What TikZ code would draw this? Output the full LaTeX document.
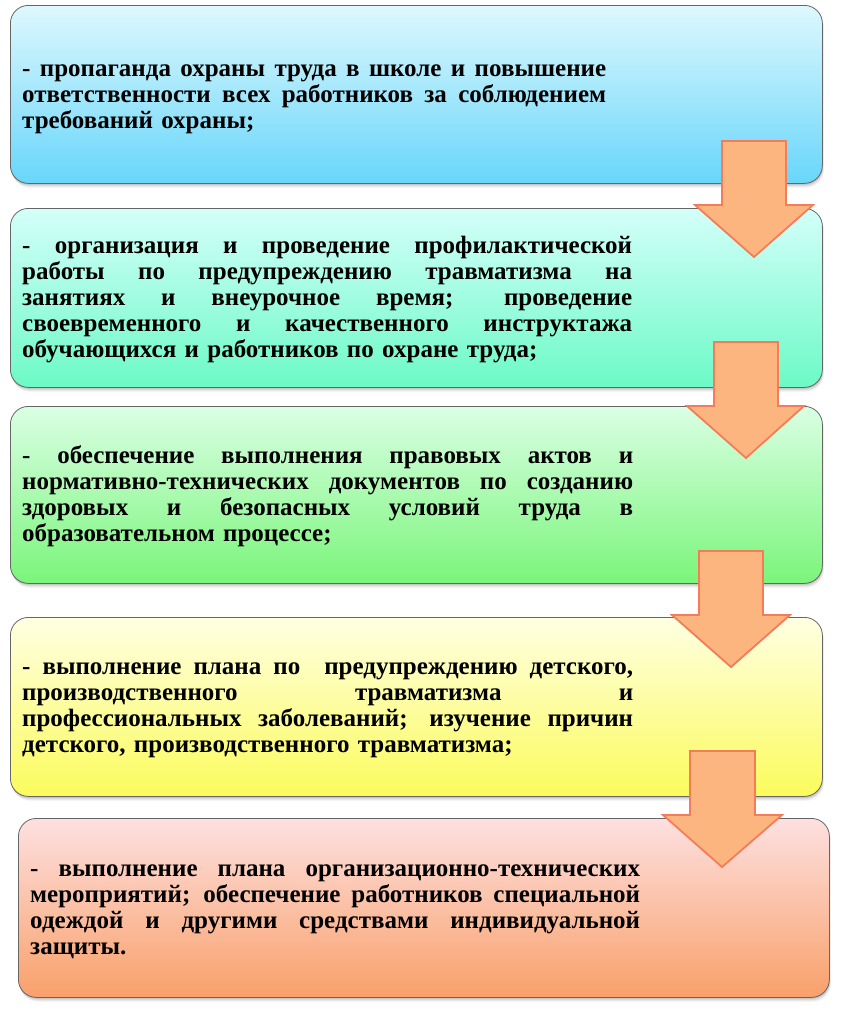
\documentclass[tikz,border=0pt]{standalone}
\usepackage{fontspec}
\setmainfont{Liberation Serif}
\definecolor{c1t}{RGB}{222,248,253}
\definecolor{c1b}{RGB}{104,214,250}
\definecolor{c2t}{RGB}{212,255,250}
\definecolor{c2b}{RGB}{108,250,198}
\definecolor{c3t}{RGB}{218,255,228}
\definecolor{c3b}{RGB}{122,245,122}
\definecolor{c4t}{RGB}{255,255,226}
\definecolor{c4b}{RGB}{251,251,92}
\definecolor{c5t}{RGB}{253,224,224}
\definecolor{c5b}{RGB}{249,160,106}
\definecolor{arrfill}{RGB}{252,181,127}
\definecolor{arrdraw}{RGB}{245,124,88}
\newcommand\panelshadow[4]{%
  \foreach \d/\o in {1/0.10,2/0.08,3/0.06,4/0.05,5/0.03}{%
    \fill[black,opacity=\o,rounded corners=18pt] (#1+0.4*\d,#2+\d) rectangle (#3+0.4*\d,#4+\d);}}
\newcommand\jline[2]{\leavevmode\hbox to #1{\spaceskip=0.25em plus 10em minus 0.05em\xspaceskip=\spaceskip #2}\\}
\begin{document}
\begin{tikzpicture}[x=1pt,y=-1pt,
  panel/.style={rounded corners=18pt, draw=black!60, line width=0.8pt, inner sep=0pt, anchor=north west},
  txt/.style={anchor=base west, inner sep=0pt, align=left, font=\bfseries\fontsize{25}{26}\selectfont},
  barrow/.style={fill=arrfill, draw=arrdraw, line width=1.8pt, line join=miter}]
\useasboundingbox (0,0) rectangle (845,1010);
\fill[white] (0,0) rectangle (845,1010);
% shadows
\panelshadow{10}{5}{822}{183}
\panelshadow{10}{208}{822}{387}
\panelshadow{10}{406}{822}{583}
\panelshadow{10}{617}{822}{796}
\panelshadow{18}{818}{829}{997}
% panels
\node[panel, minimum width=812pt, minimum height=178pt, top color=c1t, bottom color=c1b] (b1) at (10,5) {};
\node[panel, minimum width=812pt, minimum height=179pt, top color=c2t, bottom color=c2b] (b2) at (10,208) {};
\node[panel, minimum width=812pt, minimum height=177pt, top color=c3t, bottom color=c3b] (b3) at (10,406) {};
\node[panel, minimum width=812pt, minimum height=179pt, top color=c4t, bottom color=c4b] (b4) at (10,617) {};
\node[panel, minimum width=811pt, minimum height=179pt, top color=c5t, bottom color=c5b] (b5) at (18,818) {};
% texts
\node[txt, text width=584pt] (t1) at (22,76) {%
\jline{584pt}{- пропаганда охраны труда в школе и повышение}%
\jline{584pt}{ответственности всех работников за соблюдением}%
требований охраны;};
\node[txt, text width=610pt] (t2) at (22,253) {%
\jline{610pt}{- организация и проведение профилактической}%
\jline{610pt}{работы по предупреждению травматизма на}%
\jline{610pt}{занятиях и внеурочное время; проведение}%
\jline{610pt}{своевременного и качественного инструктажа}%
обучающихся и работников по охране труда;};
\node[txt, text width=611pt] (t3) at (22,463) {%
\jline{611pt}{- обеспечение выполнения правовых актов и}%
\jline{611pt}{нормативно-технических документов по созданию}%
\jline{611pt}{здоровых и безопасных условий труда в}%
образовательном процессе;};
\node[txt, text width=611pt] (t4) at (22,674) {%
\jline{611pt}{- выполнение плана по\ \ предупреждению детского,}%
\jline{611pt}{производственного травматизма и}%
\jline{611pt}{профессиональных заболеваний; изучение причин}%
детского, производственного травматизма;};
\node[txt, text width=610pt] (t5) at (30,876) {%
\jline{610pt}{- выполнение плана организационно-технических}%
\jline{610pt}{мероприятий; обеспечение работников специальной}%
\jline{610pt}{одеждой и другими средствами индивидуальной}%
защиты.};
% arrows
\draw[barrow] (722,141) -- (786,141) -- (786,205) -- (813,205) -- (754,257) -- (695,205) -- (722,205) -- cycle;
\draw[barrow] (714,342) -- (778,342) -- (778,406) -- (804,406) -- (746,458) -- (687,406) -- (714,406) -- cycle;
\draw[barrow] (699,551) -- (763,551) -- (763,615) -- (790,615) -- (731,667) -- (672,615) -- (699,615) -- cycle;
\draw[barrow] (690,751) -- (755,751) -- (755,815) -- (782,815) -- (722,867) -- (663,815) -- (690,815) -- cycle;
\end{tikzpicture}
\end{document}
